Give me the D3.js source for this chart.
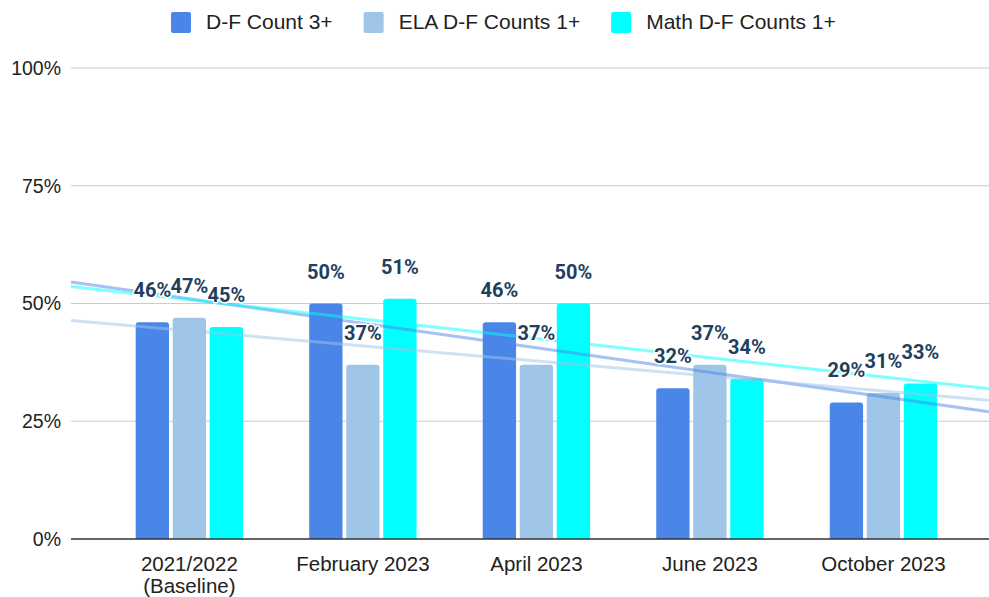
<!DOCTYPE html>
<html><head><meta charset="utf-8">
<script src="https://cdn.jsdelivr.net/npm/d3@7"></script>
<style>
html,body{margin:0;padding:0;background:#fff;}
svg{display:block;font-family:"Liberation Sans",Arial,sans-serif;}
</style></head>
<body><svg id="c" width="989" height="597"></svg>
<script>
const categories = [["2021/2022","(Baseline)"],["February 2023"],["April 2023"],["June 2023"],["October 2023"]];
const seriesNames = ["D-F Count 3+","ELA D-F Counts 1+","Math D-F Counts 1+"];
const seriesColors = ["#4a86e8","#9fc5e8","#00ffff"];
const dfCount3 = [46,50,46,32,29];
const elaCounts1 = [47,37,37,37,31];
const mathCounts1 = [45,51,50,34,33];
const yTicks = [0,25,50,75,100];

const values = [dfCount3, elaCounts1, mathCounts1];
const catKeys = categories.map(c => c.join(" "));
const svg = d3.select("#c");

const y = d3.scaleLinear().domain([0,100]).range([539,68]);
const x0 = d3.scaleBand().domain(catKeys).range([102.6,970.2]).padding(0);
const x1 = d3.scaleBand().domain(seriesNames).range([0,x0.bandwidth()]).paddingInner(0.1).paddingOuter(0.894);
const gridX0 = 71, gridX1 = 989;

// gridlines
svg.append("g").selectAll("line").data(yTicks.filter(t=>t>0)).join("line")
  .attr("x1",gridX0).attr("x2",gridX1)
  .attr("y1",d=>y(d)).attr("y2",d=>y(d))
  .attr("stroke","#cccccc").attr("stroke-width",1.2);

// y labels
svg.append("g").selectAll("text").data(yTicks).join("text")
  .attr("x",61).attr("y",d=>y(d)).attr("dy","0.35em")
  .attr("text-anchor","end").attr("font-size",19.5).attr("fill","#222")
  .text(d=>d+"%");

// bars
const r = 3;
function barPath(xl, w, yt, yb){
  return `M${xl},${yb}V${yt+r}Q${xl},${yt} ${xl+r},${yt}H${xl+w-r}Q${xl+w},${yt} ${xl+w},${yt+r}V${yb}Z`;
}
const barData = [];
values.forEach((vals,si)=>vals.forEach((v,ci)=>barData.push({si,ci,v})));
svg.append("g").selectAll("path").data(barData).join("path")
  .attr("d",d=>barPath(x0(catKeys[d.ci])+x1(seriesNames[d.si]), x1.bandwidth(), y(d.v), y(0)))
  .attr("fill",d=>seriesColors[d.si]);

// baseline
svg.append("line").attr("x1",gridX0).attr("x2",gridX1).attr("y1",y(0)).attr("y2",y(0))
  .attr("stroke","#333").attr("stroke-width",1.5);

// trend lines (linear regression over category index)
const center = i => x0(catKeys[i]) + x0.bandwidth()/2;
const step = x0.step();
values.forEach((vals,si)=>{
  const n = vals.length, xs = d3.range(n);
  const mx = d3.mean(xs), my = d3.mean(vals);
  const slope = d3.sum(xs,(xi,i)=>(xi-mx)*(vals[i]-my)) / d3.sum(xs,xi=>(xi-mx)*(xi-mx));
  const icept = my - slope*mx;
  const idxAt = px => (px - center(0))/step;
  const pts = [gridX0, gridX1].map(px => [px, y(icept + slope*idxAt(px))]);
  svg.append("line")
    .attr("x1",pts[0][0]).attr("y1",pts[0][1]).attr("x2",pts[1][0]).attr("y2",pts[1][1])
    .attr("stroke",seriesColors[si]).attr("stroke-width",3).attr("stroke-opacity",0.5);
});

// data labels
svg.append("g").selectAll("text").data(barData).join("text")
  .attr("x",d=>x0(catKeys[d.ci])+x1(seriesNames[d.si])+x1.bandwidth()/2)
  .attr("y",d=>y(d.v)-25)
  .attr("text-anchor","middle").attr("font-size",20).attr("font-weight","bold")
  .attr("font-family","Roboto,'Liberation Sans',sans-serif")
  .attr("fill","#1f3f5f").attr("stroke","#fff").attr("stroke-width",3)
  .attr("stroke-linejoin","round").attr("paint-order","stroke")
  .text(d=>d.v+"%");

// category labels
const cat = svg.append("g").selectAll("text").data(categories).join("text")
  .attr("text-anchor","middle").attr("font-size",20.5).attr("fill","#222")
  .attr("transform",(d,i)=>`translate(${center(i)},571)`);
cat.selectAll("tspan").data(d=>d).join("tspan")
  .attr("x",0).attr("y",(d,i)=>i*22).text(d=>d);

// legend
const leg = svg.append("g");
let lx = 171;
seriesNames.forEach((name,i)=>{
  leg.append("rect").attr("x",lx).attr("y",12).attr("width",20).attr("height",21).attr("rx",2)
    .attr("fill",seriesColors[i]);
  const t = leg.append("text").attr("x",lx+35).attr("y",29).attr("font-size",21).attr("fill","#222").text(name);
  lx = lx + 35 + t.node().getComputedTextLength() + 31;
});
</script></body></html>
